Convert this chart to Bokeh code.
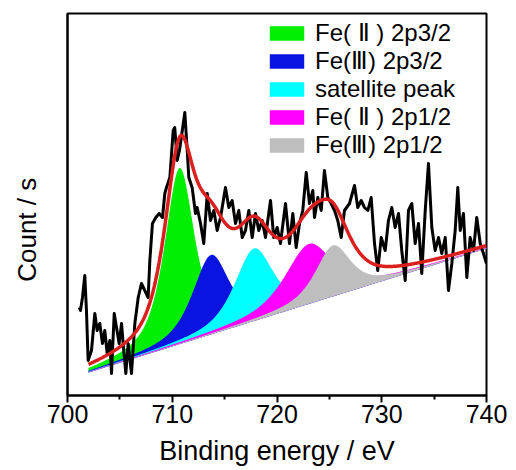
import numpy as np
from bokeh.plotting import figure
from bokeh.models import FixedTicker, Range1d
from bokeh.embed import file_html
from bokeh.resources import INLINE

# ---- measured spectrum (binding energy in eV, counts in arbitrary units) ----
energy = [701.12, 701.24, 701.43, 701.65, 701.81, 701.97, 702.29, 702.61, 702.83, 703.08,
          703.34, 703.56, 703.79, 704.04, 704.20, 704.46, 704.68, 704.93, 705.16, 705.37,
          705.57, 705.79, 706.11, 706.43, 706.75, 707.06, 707.38, 707.70, 707.86, 708.11,
          708.43, 708.75, 709.07, 709.29, 709.45, 709.77, 710.09, 710.24, 710.47, 710.69,
          711.20, 711.43, 711.58, 711.90, 712.22, 712.38, 712.70, 713.01, 713.34, 713.65,
          713.97, 714.29, 714.61, 715.08, 715.40, 715.72, 716.04, 716.35, 716.68, 716.99,
          717.31, 717.63, 717.95, 718.26, 718.59, 718.90, 719.38, 719.69, 720.02, 720.33,
          720.81, 721.19, 721.51, 721.83, 722.15, 722.46, 722.79, 723.10, 723.42, 723.58,
          723.90, 724.22, 724.53, 724.85, 725.17, 725.49, 725.80, 726.13, 726.44, 726.92,
          727.40, 727.71, 728.04, 728.35, 728.67, 728.99, 729.31, 729.62, 729.95, 730.33,
          730.64, 730.96, 731.28, 731.60, 731.91, 732.24, 732.55, 732.87, 733.19, 733.51,
          733.82, 734.15, 734.46, 734.78, 735.10, 735.42, 735.73, 736.06, 736.37, 736.69,
          737.01, 737.26, 737.49, 737.80, 738.12, 738.44, 738.76, 739.07, 739.40, 739.71,
          740.00]
counts = [88, 85, 98, 120, 85, 35, 45, 82, 65, 72,
          52, 65, 42, 55, 22, 82, 68, 52, 72, 45,
          22, 52, 22, 72, 98, 112, 105, 98, 135, 172,
          178, 182, 178, 202, 208, 218, 265, 268, 235, 245,
          283, 245, 218, 208, 182, 188, 172, 152, 202, 175,
          185, 165, 178, 208, 188, 195, 172, 185, 158, 165,
          185, 158, 182, 165, 175, 158, 195, 158, 168, 152,
          192, 152, 182, 148, 172, 185, 223, 192, 205, 178,
          198, 185, 225, 198, 192, 185, 175, 158, 185, 192,
          210, 188, 195, 188, 185, 198, 152, 125, 158, 145,
          175, 188, 168, 182, 145, 115, 185, 192, 152, 172,
          122, 185, 232, 168, 145, 158, 142, 158, 105, 132,
          165, 208, 165, 182, 118, 158, 145, 178, 152, 142,
          132]

# ---- fitted components ----
peak_names = ["Fe( \u2161 ) 2p3/2", "Fe(\u2162) 2p3/2", "satellite peak",
              "Fe( \u2161 ) 2p1/2", "Fe(\u2162) 2p1/2"]
peak_centers = [710.7, 713.7, 717.8, 723.05, 725.35]
peak_heights = [176.0, 79.4, 72.5, 59.9, 50.9]
peak_hwhm = [1.7, 2.1, 2.2, 2.7, 2.0]
peak_lorentz_fraction = [0.7, 0.7, 0.7, 0.7, 0.7]
peak_colors = ["#00EE00", "#0A14E0", "#00FFFF", "#FF00FF", "#BEBEBE"]
background_energy = [702.0, 740.0]
background_counts = [23.0, 147.0]

x_ticks = [700, 710, 720, 730, 740]
x_minor_ticks = [705, 715, 725, 735]

fit_x = np.linspace(background_energy[0], background_energy[1], 761)
base = np.interp(fit_x, background_energy, background_counts)


def pseudo_voigt(x, c, h, w, eta):
    u = (x - c) / w
    return h * (eta / (1.0 + u * u) + (1.0 - eta) * np.exp(-np.log(2.0) * u * u))


comps = [pseudo_voigt(fit_x, c, h, w, e) for c, h, w, e in
         zip(peak_centers, peak_heights, peak_hwhm, peak_lorentz_fraction)]
envelope = base + np.sum(comps, axis=0)

p = figure(width=516, height=470, output_backend="svg", toolbar_location=None,
           x_range=Range1d(700, 740), y_range=Range1d(0, 382),
           min_border_left=67, min_border_right=30, min_border_top=13,
           min_border_bottom=75)

for name, comp, col in zip(peak_names, comps, peak_colors):
    p.varea(x=fit_x, y1=base, y2=base + comp, fill_color=col, legend_label=name)

p.line(energy, counts, line_color="black", line_width=3, line_join="round")
p.line(fit_x, envelope, line_color="#DA1F1F", line_width=3.5)

p.grid.visible = False
p.outline_line_color = "black"
p.outline_line_width = 2
p.outline_line_alpha = 1
p.background_fill_color = "white"
p.border_fill_color = "white"

xa = p.xaxis[0]
xa.ticker = FixedTicker(ticks=x_ticks, minor_ticks=x_minor_ticks)
xa.axis_label = "Binding energy / eV"
xa.axis_label_text_font = "Liberation Sans"
xa.axis_label_text_font_size = "27px"
xa.axis_label_text_font_style = "normal"
xa.axis_label_text_color = "black"
xa.axis_label_standoff = 10
xa.major_label_text_font = "Liberation Sans"
xa.major_label_text_font_size = "25px"
xa.major_label_text_color = "black"
xa.major_label_standoff = 2
xa.axis_line_width = 2
xa.major_tick_line_width = 2
xa.minor_tick_line_width = 2
xa.major_tick_out = 7
xa.major_tick_in = 0
xa.minor_tick_out = 4
xa.minor_tick_in = 0

ya = p.yaxis[0]
ya.ticker = FixedTicker(ticks=[], minor_ticks=[])
ya.axis_label = "Count / s" + "\u00a0" * 7
ya.axis_label_text_font = "Liberation Sans"
ya.axis_label_text_font_size = "26px"
ya.axis_label_text_font_style = "normal"
ya.axis_label_text_color = "black"
ya.axis_label_standoff = 26
ya.major_tick_line_color = None
ya.minor_tick_line_color = None
ya.axis_line_width = 2

lg = p.legend[0]
lg.location = (198, 236)
lg.padding = 0
lg.margin = 0
lg.spacing = 0
lg.glyph_width = 43
lg.glyph_height = 18
lg.label_height = 28
lg.label_standoff = 7
lg.label_text_font = "Liberation Sans"
lg.label_text_font_size = "24px"
lg.label_text_color = "black"
lg.border_line_color = None
lg.background_fill_alpha = 0

open("out.html", "w").write(file_html(p, INLINE))
